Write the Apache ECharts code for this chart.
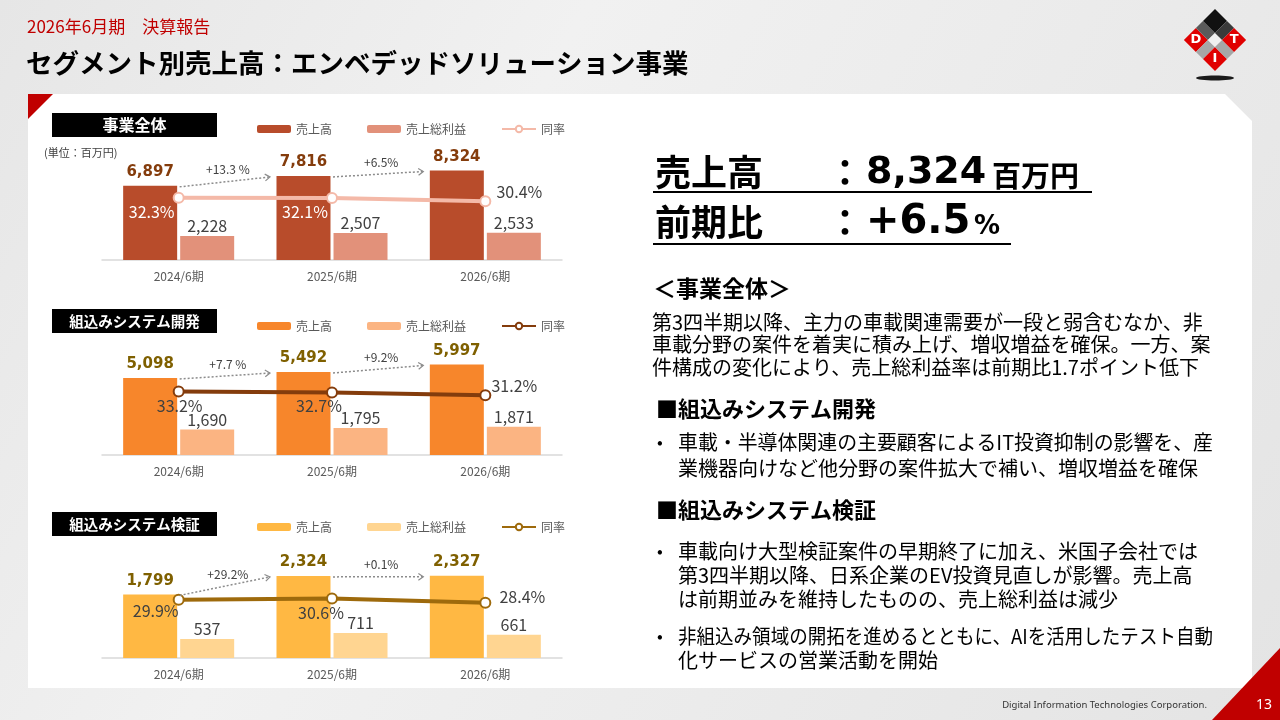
<!DOCTYPE html>
<html lang="ja">
<head>
<meta charset="utf-8">
<title>セグメント別売上高：エンベデッドソリューション事業</title>
<script src="https://cdn.jsdelivr.net/npm/echarts@6/dist/echarts.min.js"></script>
<style>
  html, body { margin: 0; padding: 0; background: #ececec; }
  #slide { width: 1280px; height: 720px; }
</style>
</head>
<body>
<div id="slide"></div>
<script>
const JP = '"Noto Sans CJK JP", sans-serif';
const NUM = '"DejaVu Sans", Verdana, sans-serif';

const periods = ['2024/6期', '2025/6期', '2026/6期'];
const legendNames = ['売上高', '売上総利益', '同率'];

// 事業全体
const totalSales = [6897, 7816, 8324];
const totalProfit = [2228, 2507, 2533];
const totalRate = [32.3, 32.1, 30.4];
const totalGrowth = ['+13.3 %', '+6.5%'];

// 組込みシステム開発
const devSales = [5098, 5492, 5997];
const devProfit = [1690, 1795, 1871];
const devRate = [33.2, 32.7, 31.2];
const devGrowth = ['+7.7 %', '+9.2%'];

// 組込みシステム検証
const testSales = [1799, 2324, 2327];
const testProfit = [537, 711, 661];
const testRate = [29.9, 30.6, 28.4];
const testGrowth = ['+29.2%', '+0.1%'];

// right side text
const headSales = '8,324';
const headGrowth = '+6.5';
const summaryLines = [
  '第3四半期以降、主力の車載関連需要が一段と弱含むなか、非',
  '車載分野の案件を着実に積み上げ、増収増益を確保。一方、案',
  '件構成の変化により、売上総利益率は前期比1.7ポイント低下'
];
const devBullets = [
  ['車載・半導体関連の主要顧客によるIT投資抑制の影響を、産', '業機器向けなど他分野の案件拡大で補い、増収増益を確保']
];
const testBullets = [
  ['車載向け大型検証案件の早期終了に加え、米国子会社では', '第3四半期以降、日系企業のEV投資見直しが影響。売上高', 'は前期並みを維持したものの、売上総利益は減少'],
  ['非組込み領域の開拓を進めるとともに、AIを活用したテスト自動', '化サービスの営業活動を開始']
];

const panels = [
  { title: '事業全体', titleSize: 16, sales: totalSales, profit: totalProfit, rate: totalRate, growth: totalGrowth,
    top: 140, boxY: 113, legendTop: 118, salesMax: 11160, rateMax: 62.2,
    colors: ['#B84C2B', '#E2917A', '#F4B9A8'], valueColor: '#843C0C',
    rateLabels: [[-27, 14, '#ffffff'], [-27, 14, '#ffffff'], [34, -9, '#404040']] },
  { title: '組込みシステム開発', titleSize: 14.5, sales: devSales, profit: devProfit, rate: devRate, growth: devGrowth,
    top: 335, boxY: 309, legendTop: 315, salesMax: 7944, rateMax: 62.7,
    colors: ['#F7862B', '#FBB482', '#843C0C'], valueColor: '#7F6000',
    rateLabels: [[1, 14, '#404040'], [-13, 14, '#404040'], [29, -9, '#404040']] },
  { title: '組込みシステム検証', titleSize: 14.5, sales: testSales, profit: testProfit, rate: testRate, growth: testGrowth,
    top: 538, boxY: 512, legendTop: 516, salesMax: 3396, rateMax: 61.7,
    colors: ['#FFB843', '#FFD591', '#9E6A0C'], valueColor: '#7F6000',
    rateLabels: [[-23, 11, '#404040'], [-11, 14, '#404040'], [37, -6, '#404040']] }
];

const chart = echarts.init(document.getElementById('slide'));
const measureCtx = document.createElement('canvas').getContext('2d');

function txt(x, y, text, o) {
  return {
    type: 'text', x: x, y: y, z: o.z || 5,
    style: {
      text: text, fill: o.color || '#000', fontSize: o.size || 12,
      fontWeight: o.weight || 'normal', fontFamily: o.family || JP,
      align: o.align || 'left', verticalAlign: 'middle'
    }
  };
}

// squeeze a body line into the text box like the slide's justified paragraphs
function fitLine(el, maxW) {
  const s = el.style;
  measureCtx.font = s.fontWeight + ' ' + s.fontSize + 'px ' + s.fontFamily;
  const w = measureCtx.measureText(s.text).width;
  if (w > maxW) el.scaleX = maxW / w;
  return el;
}

function logo() {
  const sz = [17, 10, 17], off = [-22, -5, 5];
  const fills = [['#E00000', '#5a5a5a', '#111111'],
                 ['#a6a6a6', '#f0f0f0', '#3a3a3a'],
                 ['#E00000', '#a6a6a6', '#E00000']];
  const letters = { '0,0': 'D', '2,0': 'I', '2,2': 'T' };
  const kids = [];
  for (let r = 0; r < 3; r++) {
    for (let c = 0; c < 3; c++) {
      kids.push({ type: 'rect', shape: { x: off[c], y: off[r], width: sz[c], height: sz[r] }, style: { fill: fills[r][c] } });
      const l = letters[r + ',' + c];
      if (l) {
        kids.push({ type: 'text', x: off[c] + sz[c] / 2, y: off[r] + sz[r] / 2, rotation: -Math.PI / 4,
          style: { text: l, fill: '#fff', fontSize: 13, fontWeight: 'bold', fontFamily: NUM, align: 'center', verticalAlign: 'middle' } });
      }
    }
  }
  return [
    { type: 'ellipse', shape: { cx: 1215, cy: 78, rx: 19, ry: 2.5 }, style: { fill: '#1a1a1a' } },
    { type: 'group', x: 1215, y: 40, rotation: Math.PI / 4, children: kids }
  ];
}

function staticGraphics() {
  const g = [];
  g.push({ type: 'rect', z: -10, shape: { x: 0, y: 0, width: 1280, height: 720 },
    style: { fill: new echarts.graphic.LinearGradient(0, 0, 1, 1, [
      { offset: 0, color: '#e6e6e6' }, { offset: 0.35, color: '#f1f1f1' }, { offset: 1, color: '#e4e4e4' }]) } });
  g.push({ type: 'polygon', z: -9, shape: { points: [[28, 94], [1225, 94], [1252, 121], [1252, 688], [28, 688]] },
    style: { fill: '#ffffff' } });
  g.push({ type: 'polygon', z: -8, shape: { points: [[28, 94], [53, 94], [28, 119]] }, style: { fill: '#C00000' } });
  g.push({ type: 'polygon', z: -8, shape: { points: [[1280, 648], [1280, 720], [1212, 720]] }, style: { fill: '#C00000' } });
  g.push(...logo());

  // header
  g.push(txt(27, 27, '2026年6月期　決算報告', { size: 17, color: '#C00000' }));
  g.push(txt(26, 63, 'セグメント別売上高：エンベデッドソリューション事業', { size: 26.5, weight: 'bold', color: '#000' }));

  // chart headings
  panels.forEach(function (p) {
    g.push({ type: 'rect', shape: { x: 52, y: p.boxY, width: 165, height: 24 }, style: { fill: '#000' } });
    g.push(txt(134.5, p.boxY + 12, p.title, { size: p.titleSize, weight: 'bold', color: '#fff', align: 'center' }));
  });
  g.push(txt(44, 153, '(単位：百万円)', { size: 11, color: '#404040' }));

  // right panel
  g.push(txt(655, 172, '売上高', { size: 36, weight: 'bold' }));
  g.push(txt(845, 172, '：', { size: 36, weight: 'bold', align: 'center' }));
  g.push(txt(866, 173, headSales, { size: 38, weight: 'bold', family: NUM }));
  g.push(txt(992, 176, '百万円', { size: 29, weight: 'bold' }));
  g.push({ type: 'rect', shape: { x: 653, y: 191, width: 439, height: 2 }, style: { fill: '#000' } });
  g.push(txt(655, 222, '前期比', { size: 36, weight: 'bold' }));
  g.push(txt(845, 222, '：', { size: 36, weight: 'bold', align: 'center' }));
  g.push(txt(866, 223, headGrowth, { size: 40, weight: 'bold', family: NUM }));
  g.push(txt(974, 227, '%', { size: 26, weight: 'bold', family: NUM }));
  g.push({ type: 'rect', shape: { x: 653, y: 243, width: 358, height: 2 }, style: { fill: '#000' } });

  g.push(txt(653, 288, '＜事業全体＞', { size: 23, weight: 'bold' }));
  summaryLines.forEach(function (l, i) { g.push(fitLine(txt(652, 322 + i * 22.5, l, { size: 20 }), 560)); });

  g.push(txt(656, 409, '■組込みシステム開発', { size: 22, weight: 'bold' }));
  let y = 442;
  devBullets.forEach(function (b) {
    g.push(txt(657, y, '•', { size: 17 }));
    b.forEach(function (l, i) { g.push(fitLine(txt(678, y + i * 26.5, l, { size: 20 }), 535)); });
    y += b.length * 26.5 + 10;
  });
  g.push(txt(656, 510, '■組込みシステム検証', { size: 22, weight: 'bold' }));
  y = 551;
  testBullets.forEach(function (b) {
    g.push(txt(657, y, '•', { size: 17 }));
    b.forEach(function (l, i) { g.push(fitLine(txt(678, y + i * 24, l, { size: 20 }), 535)); });
    y += b.length * 24 + 13;
  });

  // footer
  g.push(txt(1207, 705, 'Digital Information Technologies Corporation.', { size: 9.5, color: '#333', family: '"Noto Sans", sans-serif', align: 'right' }));
  g.push(txt(1264, 705, '13', { size: 14, color: '#fff', family: '"Noto Sans", sans-serif', align: 'center' }));
  return g;
}

const grids = [], xAxes = [], yAxes = [], series = [], legends = [];
panels.forEach(function (p, k) {
  grids.push({ left: 102, width: 460, top: p.top, height: 120 });
  xAxes.push({
    type: 'category', gridIndex: k, data: periods,
    axisLine: { lineStyle: { color: '#D9D9D9', width: 1.5 } },
    axisTick: { show: false },
    axisLabel: { color: '#595959', fontSize: 12, fontFamily: JP, margin: 10 }
  });
  yAxes.push({ type: 'value', gridIndex: k, show: false, min: 0, max: p.salesMax, splitLine: { show: false } });
  yAxes.push({ type: 'value', gridIndex: k, show: false, min: 0, max: p.rateMax, splitLine: { show: false } });
  const tag = '#' + k;
  series.push({
    name: legendNames[0] + tag, type: 'bar', xAxisIndex: k, yAxisIndex: 2 * k,
    barWidth: 54, barGap: '5.6%', data: p.sales,
    itemStyle: { color: p.colors[0] },
    label: { show: true, position: 'top', distance: 6, color: p.valueColor, fontFamily: NUM, fontWeight: 'bold', fontSize: 15,
      formatter: function (d) { return d.value.toLocaleString('en-US'); } }
  });
  series.push({
    name: legendNames[1] + tag, type: 'bar', xAxisIndex: k, yAxisIndex: 2 * k,
    barWidth: 54, data: p.profit,
    itemStyle: { color: p.colors[1] },
    label: { show: true, position: 'top', distance: 2, color: '#404040', fontFamily: JP, fontSize: 16,
      formatter: function (d) { return d.value.toLocaleString('en-US'); } }
  });
  series.push({
    name: legendNames[2] + tag, type: 'line', xAxisIndex: k, yAxisIndex: 2 * k + 1, z: 4,
    symbol: 'emptyCircle', symbolSize: 10,
    itemStyle: { color: p.colors[2], borderWidth: 2 },
    lineStyle: { color: p.colors[2], width: 4 },
    data: p.rate.map(function (v, i) {
      const l = p.rateLabels[i];
      return { value: v, label: { offset: [l[0], l[1]], color: l[2] } };
    }),
    label: { show: true, position: 'inside', fontFamily: JP, fontSize: 16, formatter: '{c}%' }
  });
  legends.push({
    left: 252, top: p.legendTop, itemWidth: 34, itemHeight: 8, itemGap: 35, selectedMode: false,
    data: legendNames.map(function (n) { return n + tag; }),
    formatter: function (n) { return n.split('#')[0]; },
    textStyle: { color: '#595959', fontSize: 12, fontFamily: JP }
  });
});

const baseGraphics = staticGraphics();
chart.setOption({
  animation: false,
  grid: grids, xAxis: xAxes, yAxis: yAxes, series: series, legend: legends,
  graphic: { elements: baseGraphics }
});

// growth arrows between sales bars, placed through the chart's own scales
function growthArrows() {
  const els = [];
  panels.forEach(function (p, k) {
    for (let i = 0; i < p.growth.length; i++) {
      const a = chart.convertToPixel({ seriesIndex: 3 * k }, [i, p.sales[i]]);
      const b = chart.convertToPixel({ seriesIndex: 3 * k }, [i + 1, p.sales[i + 1]]);
      const x1 = a[0] + 1, y1 = a[1] + 1, x2 = b[0] - 62, y2 = b[1] + 1;
      const ang = Math.atan2(y2 - y1, x2 - x1);
      const hx = function (t) { return x2 - 6 * Math.cos(ang + t); };
      const hy = function (t) { return y2 - 6 * Math.sin(ang + t); };
      els.push({ type: 'line', z: 10, shape: { x1: x1, y1: y1, x2: x2, y2: y2 },
        style: { stroke: '#8c8c8c', lineWidth: 1.5, lineDash: [2, 2] } });
      els.push({ type: 'polyline', z: 10, shape: { points: [[hx(0.6), hy(0.6)], [x2, y2], [hx(-0.6), hy(-0.6)]] },
        style: { stroke: '#8c8c8c', lineWidth: 1.2, fill: 'none' } });
      els.push(txt((x1 + x2) / 2 + 3, (y1 + y2) / 2 - 12, p.growth[i], { size: 12, color: '#404040', z: 10, align: 'center' }));
    }
  });
  return els;
}

chart.setOption({ graphic: { elements: baseGraphics.concat(growthArrows()) } });
</script>
</body>
</html>
